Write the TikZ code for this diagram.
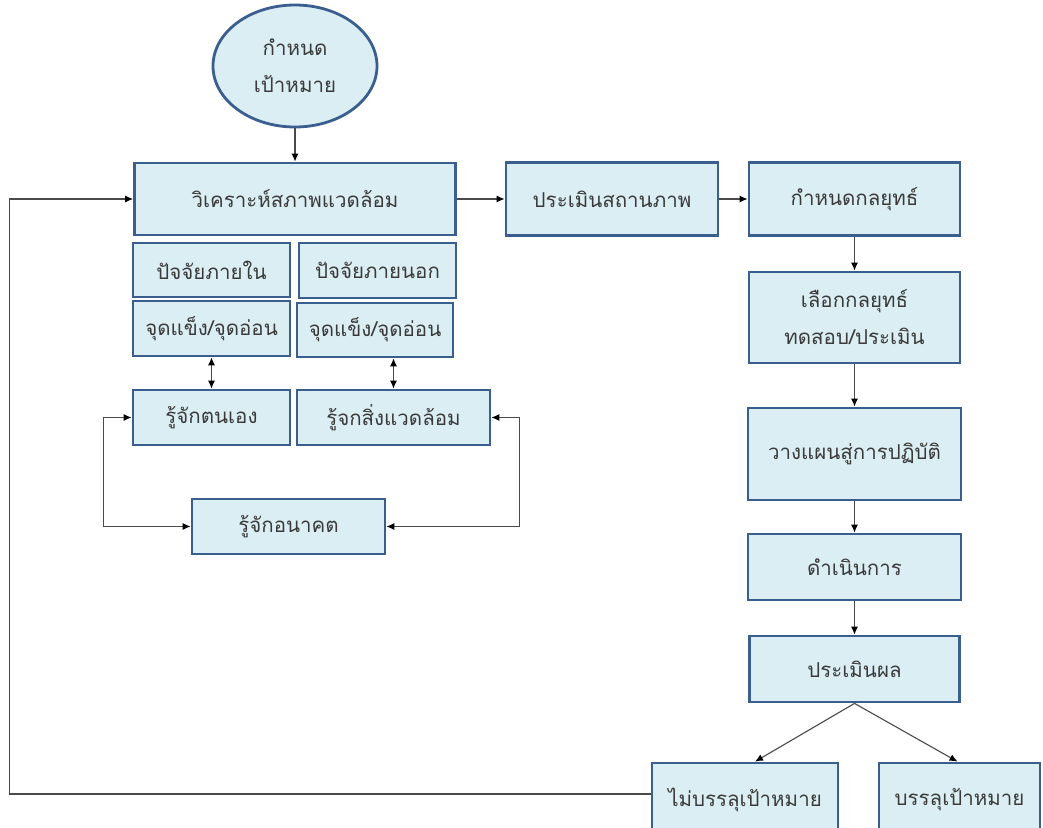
\documentclass[tikz,border=0pt]{standalone}
\usepackage{fontspec}
\newfontfamily\thaifont[Script=Thai]{Loma}
\usetikzlibrary{arrows.meta,shapes.geometric}
\definecolor{boxfill}{HTML}{DBEEF4}
\definecolor{boxline}{HTML}{3A5F8F}
\definecolor{txt}{HTML}{3A3A3A}
\definecolor{conn}{HTML}{4A4A4A}
\tikzset{
  box/.style={draw=boxline, fill=boxfill, line width=2.8pt, inner sep=0pt, align=center,
    font=\thaifont\fontsize{20.5}{37}\selectfont, text=txt},
  goal/.style={box, ellipse},
  arr/.style={draw=conn, line width=1.1pt, -{Latex[length=8pt,width=7pt,color=black]}},
  darr/.style={draw=conn, line width=1.1pt, {Latex[length=8pt,width=7pt,color=black]}-{Latex[length=8pt,width=7pt,color=black]}},
}
\newcommand{\bx}[6]{\node[box, minimum width=#4pt, minimum height=#5pt] (#1) at (#2,#3) {#6};}
\begin{document}
\begin{tikzpicture}[x=1pt,y=-1pt]
\clip (0,0) rectangle (1043,827);
\fill[white] (0,0) rectangle (1043,827);
% goal ellipse
\node[goal, minimum width=164pt, minimum height=122pt] (goal) at (295,66) {กำหนด\\เป้าหมาย};
% main chain
\bx{analyse}{295}{199}{321}{72}{วิเคราะห์สภาพแวดล้อม}
\bx{status}{612}{199}{212}{73}{ประเมินสถานภาพ}
\bx{strategy}{854.5}{199}{211}{73}{กำหนดกลยุทธ์}
\bx{choose}{854.5}{317.5}{211}{91}{เลือกกลยุทธ์\\ทดสอบ/ประเมิน}
\bx{plan}{854.5}{454}{213}{92}{วางแผนสู่การปฏิบัติ}
\bx{do}{854.5}{567}{213}{66}{ดำเนินการ}
\bx{evaluate}{854.5}{669}{210}{66}{ประเมินผล}
\node[box, minimum width=186pt, minimum height=74pt] (notmet) at (745,800) {\raisebox{6pt}{ไม่บรรลุเป้าหมาย}};
\node[box, minimum width=161pt, minimum height=74pt] (met) at (959.5,800) {\raisebox{6pt}{บรรลุเป้าหมาย}};
% left sub-boxes
\bx{internal}{211.5}{270}{157}{54}{ปัจจัยภายใน}
\bx{external}{377.5}{270.5}{157}{55}{ปัจจัยภายนอก}
\bx{swin}{211.5}{328.5}{157}{55}{จุดแข็ง/จุดอ่อน}
\bx{swout}{375}{330}{156}{54}{จุดแข็ง/จุดอ่อน}
\bx{self}{211.5}{417.5}{157}{55}{รู้จักตนเอง}
\bx{env}{393.5}{417.5}{193}{55}{รู้จกสิ่งแวดล้อม}
\bx{future}{288.5}{526.5}{193}{55}{รู้จักอนาคต}
% connectors
\draw[arr] (goal.south) -- (analyse.north);
\draw[arr] (analyse.east) -- (status.west);
\draw[arr] (status.east) -- (strategy.west);
\draw[arr] (strategy.south) -- (choose.north);
\draw[arr] (choose.south) -- (plan.north);
\draw[arr] (plan.south) -- (do.north);
\draw[arr] (do.south) -- (evaluate.north);
\draw[arr] (evaluate.south) -- ([xshift=10pt]notmet.north);
\draw[arr] (evaluate.south) -- ([xshift=-2pt]met.north);
\draw[darr] (swin.south) -- (self.north);
\draw[darr] (swout.south -| env.north) -- (env.north);
\draw[darr] (self.west) -- ++(-28,0) |- (future.west);
\draw[darr] (env.east) -- ++(28,0) |- (future.east);
\draw[arr] ([yshift=6pt]notmet.west) -- ++(-641,0) |- (analyse.west);
\end{tikzpicture}
\end{document}
